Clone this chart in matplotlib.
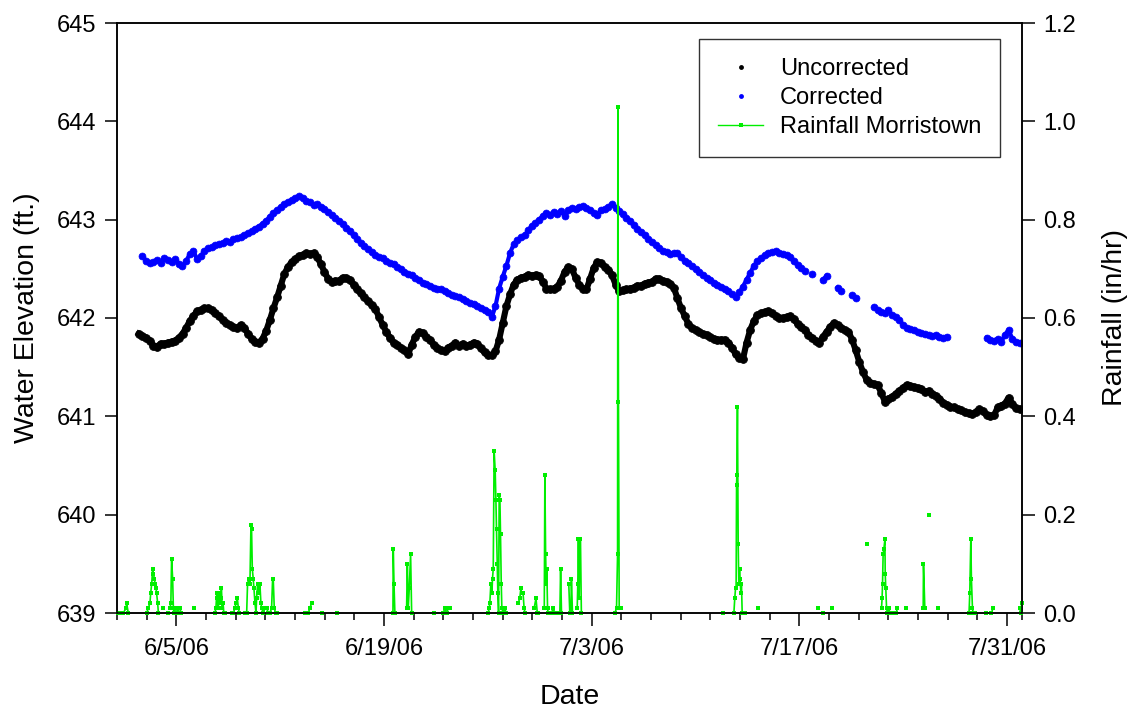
import numpy as np
import matplotlib
matplotlib.use('Agg')
import matplotlib.pyplot as plt
import matplotlib.dates as mdates
from matplotlib.lines import Line2D
from datetime import datetime, timedelta

plt.rcParams['font.family'] = ['Liberation Sans', 'DejaVu Sans']
nan = np.nan

# water elevation (ft), logger samples every ~5.9 h
unc_start = datetime(2006, 6, 2, 11, 19)
cor_start = datetime(2006, 6, 2, 17, 12)
step_hours = 5.887

uncorrected = [
    641.84, 641.82,
    641.80, 641.77, 641.72, 641.71,
    641.74, 641.74, 641.75, 641.76,
    641.77, 641.80, 641.84, 641.90,
    641.97, 642.02, 642.07, 642.08,
    642.10, 642.10, 642.08, 642.05,
    642.02, 641.98, 641.95, 641.93,
    641.91, 641.90, 641.93, 641.90,
    641.84, 641.79, 641.76, 641.75,
    641.79, 641.87, 641.98, 642.10,
    642.21, 642.33, 642.45, 642.52,
    642.57, 642.60, 642.63, 642.64,
    642.66, 642.65, 642.66, 642.62,
    642.55, 642.47, 642.40, 642.37,
    642.38, 642.38, 642.41, 642.41,
    642.39, 642.34, 642.29, 642.25,
    642.21, 642.17, 642.13, 642.09,
    642.01, 641.93, 641.86, 641.80,
    641.75, 641.73, 641.70, 641.67,
    641.63, 641.73, 641.81, 641.86,
    641.85, 641.81, 641.78, 641.73,
    641.69, 641.67, 641.66, 641.70,
    641.72, 641.75, 641.72, 641.74,
    641.72, 641.73, 641.75, 641.74,
    641.69, 641.65, 641.62, 641.62,
    641.66, 641.78, 641.95, 642.12,
    642.24, 642.34, 642.39, 642.41,
    642.42, 642.44, 642.43, 642.44,
    642.43, 642.37, 642.30, 642.29,
    642.30, 642.32, 642.38, 642.47,
    642.52, 642.50, 642.41, 642.34,
    642.30, 642.29, 642.40, 642.51,
    642.57, 642.56, 642.52, 642.49,
    642.44, 642.34, 642.27, 642.28,
    642.29, 642.30, 642.31, 642.33,
    642.33, 642.35, 642.36, 642.37,
    642.40, 642.40, 642.38, 642.37,
    642.35, 642.31, 642.20, 642.10,
    642.02, 641.94, 641.90, 641.88,
    641.86, 641.84, 641.83, 641.81,
    641.79, 641.78, 641.78, 641.78,
    641.75, 641.70, 641.63, 641.59,
    641.58, 641.75, 641.88, 641.97,
    642.03, 642.05, 642.06, 642.07,
    642.05, 642.02, 642.00, 642.00,
    642.01, 642.02, 641.99, 641.94,
    641.91, 641.88, 641.83, 641.80,
    641.77, 641.75, 641.81, 641.86,
    641.91, 641.95, 641.93, 641.90,
    641.88, 641.86, 641.78, 641.67,
    641.55, 641.45, 641.37, 641.34,
    641.33, 641.32, 641.24, 641.15,
    641.18, 641.20, 641.23, 641.26,
    641.29, 641.32, 641.31, 641.30,
    641.29, 641.28, 641.25, 641.26,
    641.23, 641.21, 641.18, 641.14,
    641.12, 641.10, 641.09, 641.07,
    641.06, 641.04, 641.03, 641.02,
    641.04, 641.07, 641.05, 641.01,
    641.00, 641.01, 641.09, 641.11,
    641.13, 641.19, 641.13, 641.08,
    641.07,
]

corrected = [
    642.63,
    642.58, 642.56, 642.57, 642.59,
    642.56, 642.61, 642.59, 642.57,
    642.60, 642.55, 642.53, 642.58,
    642.65, 642.68, 642.60, 642.63,
    642.68, 642.71, 642.72, 642.74,
    642.75, 642.76, 642.78, 642.77,
    642.80, 642.81, 642.82, 642.84,
    642.86, 642.88, 642.91, 642.93,
    642.96, 642.99, 643.03, 643.07,
    643.10, 643.13, 643.16, 643.18,
    643.20, 643.22, 643.24, 643.22,
    643.19, 643.18, 643.15, 643.16,
    643.13, 643.11, 643.08, 643.05,
    643.02, 642.99, 642.96, 642.92,
    642.88, 642.84, 642.80, 642.76,
    642.73, 642.70, 642.67, 642.64,
    642.62, 642.61, 642.58, 642.56,
    642.55, 642.52, 642.50, 642.47,
    642.45, 642.44, 642.41, 642.39,
    642.36, 642.35, 642.33, 642.31,
    642.30, 642.29, 642.27, 642.25,
    642.23, 642.22, 642.21, 642.19,
    642.17, 642.15, 642.14, 642.12,
    642.10, 642.08, 642.06, 642.01,
    642.12, 642.30, 642.42, 642.53,
    642.66, 642.75, 642.79, 642.82,
    642.84, 642.89, 642.94, 642.97,
    643.00, 643.04, 643.07, 643.05,
    643.08, 643.06, 643.09, 643.04,
    643.10, 643.12, 643.11, 643.13,
    643.14, 643.12, 643.10, 643.07,
    643.05, 643.10, 643.11, 643.13,
    643.16, 643.12, 643.09, 643.06,
    643.02, 642.99, 642.95, 642.91,
    642.87, 642.84, 642.80, 642.77,
    642.74, 642.71, 642.68, 642.67,
    642.65, 642.66, 642.66, 642.62,
    642.58, 642.56, 642.53, 642.50,
    642.47, 642.44, 642.41, 642.39,
    642.36, 642.34, 642.32, 642.30,
    642.27, 642.24, 642.21, 642.26,
    642.32, 642.39, 642.46, 642.53,
    642.58, 642.61, 642.64, 642.66,
    642.67, 642.68, 642.66, 642.65,
    642.64, 642.62, 642.58, 642.54,
    642.51, 642.48, nan, 642.45,
    nan, nan, 642.39, 642.43,
    nan, nan, 642.31, 642.27,
    nan, nan, 642.23, 642.20,
    nan, nan, nan, nan,
    642.11, 642.08, 642.06, 642.05,
    642.08, 642.03, 642.01, 641.98,
    641.93, 641.90, 641.89, 641.88,
    641.86, 641.85, 641.84, 641.83,
    641.82, 641.83, 641.81, 641.80,
    641.81, nan, nan, nan,
    nan, nan, nan, nan,
    nan, nan, nan, 641.80,
    641.78, 641.77, 641.79, 641.76,
    641.83, 641.88, 641.79, 641.76,
    641.75,
]

# rainfall events: days since 6/1/06 and in/hr
rain_day = [
    [0.09, 0.25, 0.43, 0.61, 0.65, 0.76],
    [2.00, 2.11, 2.22, 2.27, 2.34, 2.40, 2.45, 2.52, 2.56, 2.63, 2.67, 2.74, 2.79],
    [3.12], [3.46],
    [3.57, 3.63, 3.68, 3.75, 3.80, 3.84, 3.98, 4.11, 4.18, 4.27, 4.29],
    [5.19],
    [6.60, 6.67, 6.72, 6.76, 6.83, 6.87, 6.94, 6.98, 7.04, 7.09, 7.15, 7.20, 7.26],
    [7.73, 7.84, 7.95, 8.02, 8.11, 8.18, 8.24],
    [8.63, 8.74, 8.80, 8.89, 8.96, 9.03, 9.07, 9.12, 9.18, 9.23, 9.30, 9.37, 9.41, 9.48, 9.52,
     9.59, 9.63, 9.70, 9.75, 9.86, 9.97, 10.08, 10.20, 10.31, 10.42, 10.49, 10.53, 10.60, 10.69, 10.80],
    [12.67, 12.89, 13.00, 13.12],
    [13.79], [14.80],
    [18.60, 18.62, 18.67, 18.73],
    [19.52, 19.57, 19.63, 19.70, 19.79, 19.86],
    [21.38],
    [21.99, 22.10, 22.22, 22.33, 22.44],
    [25.02, 25.09, 25.13, 25.20, 25.27, 25.31, 25.36, 25.42, 25.49, 25.54, 25.58, 25.63, 25.67,
     25.72, 25.76, 25.81, 25.85, 25.90, 25.94, 26.03, 26.15, 26.21],
    [27.04, 27.15, 27.22, 27.28, 27.37, 27.44, 27.50],
    [28.12, 28.24, 28.33, 28.39],
    [28.80, 28.84, 28.89, 28.93, 28.97, 29.02, 29.06],
    [29.29, 29.40, 29.51, 29.63, 29.85, 29.90, 29.96],
    [30.45, 30.52, 30.59, 30.63, 30.70],
    [31.02, 31.06, 31.10, 31.15, 31.19, 31.24, 31.30],
    [33.56, 33.67, 33.74, 33.76, 33.80, 33.85, 34.00],
    [40.86],
    [41.58, 41.64, 41.69, 41.73, 41.76, 41.78, 41.82, 41.87, 41.91, 41.96, 42.00, 42.05, 42.09,
     42.14, 42.20, 42.31],
    [43.22],
    [47.26], [47.60], [48.16],
    [50.52],
    [51.53, 51.57, 51.60, 51.64, 51.69, 51.76, 51.78, 51.82, 51.87, 51.93, 52.02, 52.09, 52.20,
     52.31, 52.42, 52.54, 52.58],
    [53.16],
    [54.34, 54.36, 54.45],
    [54.74],
    [55.35],
    [57.43, 57.48, 57.55, 57.59, 57.66, 57.70, 57.82],
    [58.56], [58.94, 59.05],
    [60.85, 60.92, 60.98],
]
rain_in = [
    [0, 0, 0, 0.01, 0.02, 0],
    [0, 0.01, 0.02, 0.04, 0.06, 0.09, 0.08, 0.07, 0.06, 0.05, 0.04, 0.02, 0],
    [0.01], [0],
    [0.01, 0.02, 0.11, 0.07, 0.01, 0, 0.01, 0, 0.01, 0.01, 0],
    [0.01],
    [0, 0.01, 0.04, 0.03, 0.01, 0.04, 0.02, 0.03, 0.05, 0.01, 0.02, 0, 0],
    [0, 0, 0.01, 0.02, 0.03, 0.01, 0],
    [0, 0, 0.06, 0.07, 0.06, 0.18, 0.17, 0.09, 0.07, 0.05, 0.02, 0, 0.03, 0.06, 0.04,
     0.05, 0.06, 0.02, 0.01, 0, 0.01, 0.01, 0, 0, 0.01, 0.07, 0.07, 0.01, 0, 0],
    [0, 0, 0.01, 0.02],
    [0], [0],
    [0, 0.13, 0.06, 0],
    [0.01, 0.10, 0.01, 0.05, 0.12, 0],
    [0],
    [0, 0.01, 0, 0.01, 0.01],
    [0, 0.01, 0.02, 0.06, 0.04, 0.07, 0.09, 0.33, 0.29, 0.23, 0.17, 0.10, 0.04,
     0, 0.24, 0.23, 0.16, 0.06, 0.01, 0, 0.01, 0],
    [0.02, 0.03, 0.05, 0.04, 0.04, 0.01, 0],
    [0.01, 0.03, 0, 0],
    [0.01, 0.28, 0.12, 0.06, 0.09, 0.01, 0],
    [0, 0.01, 0, 0, 0, 0.09, 0],
    [0.06, 0, 0, 0.07, 0],
    [0.01, 0.06, 0.15, 0.03, 0.15, 0.15, 0],
    [0, 0.01, 0.12, 1.03, 0.43, 0.01, 0.01],
    [0],
    [0, 0.03, 0.05, 0.05, 0.26, 0.28, 0.42, 0.14, 0.06, 0.09, 0.07, 0.04, 0.06,
     0, 0, 0],
    [0.01],
    [0.01], [0], [0.01],
    [0.14],
    [0.01, 0.03, 0.06, 0.12, 0.13, 0.15, 0.08, 0.05, 0.01, 0, 0.01, 0, 0,
     0, 0, 0, 0.01],
    [0.01],
    [0.01, 0.10, 0.01],
    [0.20],
    [0.01],
    [0, 0.04, 0.15, 0.07, 0.01, 0, 0],
    [0], [0, 0.01],
    [0.01, 0, 0.02],
]

major_dates = ['2006-06-05', '2006-06-19', '2006-07-03', '2006-07-17', '2006-07-31']

green = '#00ee00'

fig = plt.figure(figsize=(11.3, 7.09), dpi=100)
ax = fig.add_axes([117 / 1130, 1 - 613 / 709, (1022 - 117) / 1130, (613 - 23) / 709])
ax2 = ax.twinx()

step = timedelta(hours=step_hours)
t_unc = mdates.date2num([unc_start + i * step for i in range(len(uncorrected))])
t_cor = mdates.date2num([cor_start + i * step for i in range(len(corrected))])

# dense logger points read as a band: connecting line under the dots
ax.plot(t_unc, uncorrected, '-o', color='black', lw=4.4, ms=5.6, mew=0.6)
ax.plot(t_cor, corrected, '-o', color='blue', lw=3.0, ms=5.0, mew=0.5)

base = mdates.date2num(datetime(2006, 6, 1))
for d, v in zip(rain_day, rain_in):
    ax2.plot(base + np.array(d), v, '-s', color=green, lw=1.2, ms=3.2, mew=0, clip_on=False)

ax.set_xlim(mdates.date2num(datetime(2006, 6, 1)), mdates.date2num(datetime(2006, 8, 1)))
ax.set_ylim(639, 645)
ax2.set_ylim(0, 1.2)
ax.set_yticks(range(639, 646))
ax2.set_yticks(np.arange(0, 1.21, 0.2))
ax2.yaxis.set_major_formatter(plt.FormatStrFormatter('%.1f'))

ax.xaxis.set_major_locator(plt.FixedLocator(mdates.datestr2num(major_dates)))
ax.xaxis.set_major_formatter(mdates.DateFormatter('%-m/%-d/%y'))
ax.xaxis.set_minor_locator(mdates.DayLocator(bymonthday=range(1, 32, 2)))

for a in (ax, ax2):
    a.tick_params(which='major', direction='out', length=9, width=1.1, labelsize=17, pad=6)
    a.tick_params(which='minor', direction='out', length=5, width=1.1)
    for s in a.spines.values():
        s.set_linewidth(1.1)
ax.tick_params(axis='x', pad=9)

ax.set_ylabel('Water Elevation (ft.)', fontsize=20.5, labelpad=12)
ax2.set_ylabel('Rainfall (in/hr)', fontsize=20.5, labelpad=19)
ax.set_xlabel('Date', fontsize=20.5, labelpad=17)

handles = [
    Line2D([], [], ls='none', marker='o', color='black', ms=3.5, mew=0),
    Line2D([], [], ls='none', marker='o', color='blue', ms=3.5, mew=0),
    Line2D([], [], ls='-', marker='s', color=green, lw=1.0, ms=3.0, mew=0),
]
leg = fig.legend(handles, ['Uncorrected', 'Corrected', 'Rainfall Morristown'],
                 loc='upper right', bbox_to_anchor=(1000 / 1130, 1 - 39 / 709),
                 fontsize=17, frameon=True, fancybox=False, edgecolor='black',
                 borderpad=0.8, labelspacing=0.3, handlelength=1.9,
                 handletextpad=0.7, borderaxespad=0)
leg.get_frame().set_linewidth(1.0)

fig.savefig('out.png', dpi=100)
